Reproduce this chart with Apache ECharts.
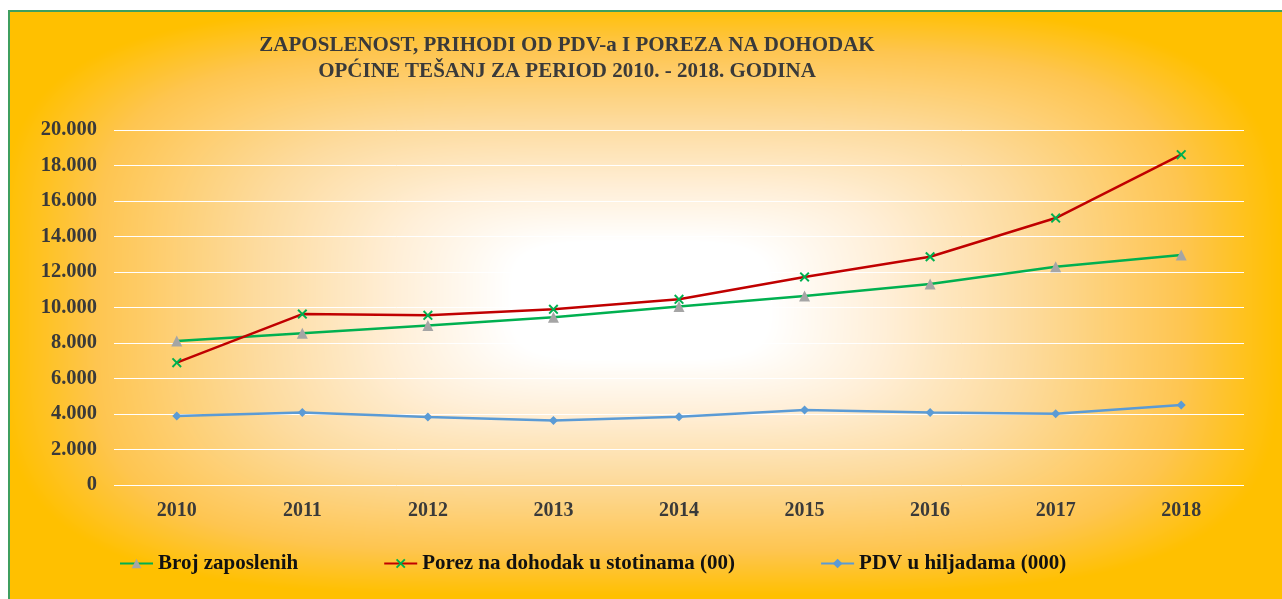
<!DOCTYPE html>
<html>
<head>
<meta charset="utf-8">
<script src="https://cdn.jsdelivr.net/npm/echarts@6/dist/echarts.min.js"></script>
<style>
html,body{margin:0;padding:0;background:#ffffff;overflow:hidden;}
#bg{position:absolute;left:0;top:0;width:1282px;height:599px;}
#chart{position:absolute;left:0;top:0;width:1282px;height:599px;}
</style>
</head>
<body>
<canvas id="bg" width="1282" height="599"></canvas>
<div id="chart"></div>
<script>
const categories = ['2010','2011','2012','2013','2014','2015','2016','2017','2018'];
const brojZaposlenih = [8110, 8550, 8980, 9450, 10050, 10650, 11320, 12300, 12960];
const porezNaDohodak = [6890, 9630, 9560, 9900, 10460, 11720, 12860, 15040, 18610];
const pdv = [3890, 4080, 3830, 3640, 3850, 4230, 4080, 4020, 4510];
const seriesNames = ['Broj zaposlenih', 'Porez na dohodak u stotinama (00)', 'PDV u hiljadama (000)'];
const titleLines = ['ZAPOSLENOST, PRIHODI OD PDV-a I POREZA NA DOHODAK', 'OPĆINE TEŠANJ ZA PERIOD 2010. - 2018. GODINA'];

// decorative background: path-style gradient (white centre -> orange edges) with green frame
(function(){
  const cv = document.getElementById('bg');
  const ctx = cv.getContext('2d');
  const W = cv.width, H = cv.height;
  const img = ctx.createImageData(W, H);
  const stops = [[0,[255,255,255]],[0.2,[255,255,255]],[0.38,[255,239,216]],[0.6,[253,219,158]],[0.85,[254,197,80]],[1,[255,192,0]]];
  const cx = 640, cy = 300, hw = 640, hh = 295, p = 4;
  function col(t){
    if (t >= 1) return stops[stops.length-1][1];
    for (let i = 1; i < stops.length; i++) {
      if (t <= stops[i][0]) {
        const a = stops[i-1], b = stops[i];
        const f = (t - a[0]) / (b[0] - a[0]);
        return [a[1][0] + (b[1][0]-a[1][0])*f, a[1][1] + (b[1][1]-a[1][1])*f, a[1][2] + (b[1][2]-a[1][2])*f];
      }
    }
    return stops[stops.length-1][1];
  }
  for (let y = 0; y < H; y++) {
    for (let x = 0; x < W; x++) {
      const k = (y*W + x)*4;
      let c;
      if (x < 8 || y < 10) { c = [255,255,255]; }
      else if (x < 10 || y < 12) { c = [63,159,95]; }
      else {
        const dx = Math.abs(x-cx)/hw, dy = Math.abs(y-cy)/hh;
        const t = Math.pow(Math.pow(dx,p) + Math.pow(dy,p), 1/p);
        c = col(t);
      }
      img.data[k] = c[0]; img.data[k+1] = c[1]; img.data[k+2] = c[2]; img.data[k+3] = 255;
    }
  }
  ctx.putImageData(img, 0, 0);
})();

const FONT = "'Liberation Serif','Times New Roman',serif";
const chart = echarts.init(document.getElementById('chart'), null, {renderer:'canvas'});
const xSymbol = 'path://M0,1.4 L1.4,0 L5,3.6 L8.6,0 L10,1.4 L6.4,5 L10,8.6 L8.6,10 L5,6.4 L1.4,10 L0,8.6 L3.6,5 Z';

chart.setOption({
  backgroundColor: 'transparent',
  animation: false,
  title: {
    text: titleLines.join('\n'),
    left: 562, textAlign: 'center', top: 28,
    textStyle: {fontFamily: FONT, fontWeight: 'bold', fontSize: 21, lineHeight: 26, color: '#3a3a3a'}
  },
  legend: {
    left: 114, top: 548, itemGap: 85, itemWidth: 33, itemHeight: 12,
    textStyle: {fontFamily: FONT, fontWeight: 'bold', fontSize: 21, color: '#111'},
    data: seriesNames
  },
  grid: {left: 114, right: 38, top: 130, bottom: 114},
  xAxis: {
    type: 'category', data: categories, boundaryGap: true,
    axisLine: {show: false}, axisTick: {show: false},
    axisLabel: {margin: 16, fontFamily: FONT, fontWeight: 'bold', fontSize: 20, color: '#3a3a3a'}
  },
  yAxis: {
    type: 'value', min: 0, max: 20000, interval: 2000,
    axisLine: {show: false}, axisTick: {show: false},
    splitLine: {lineStyle: {color: '#ffffff', width: 1}},
    axisLabel: {margin: 17, fontFamily: FONT, fontWeight: 'bold', fontSize: 20.5, color: '#3a3a3a',
      formatter: v => v === 0 ? '0' : String(v).replace(/\B(?=(\d{3})+(?!\d))/g, '.')}
  },
  series: [
    {name: seriesNames[0], type: 'line', data: brojZaposlenih, symbol: 'triangle', symbolSize: 11,
      lineStyle: {color: '#00b050', width: 2.5}, itemStyle: {color: '#a5a5a5'}},
    {name: seriesNames[1], type: 'line', data: porezNaDohodak, symbol: xSymbol, symbolSize: 10,
      lineStyle: {color: '#c00000', width: 2.5}, itemStyle: {color: '#00b050'}},
    {name: seriesNames[2], type: 'line', data: pdv, symbol: 'diamond', symbolSize: 9,
      lineStyle: {color: '#5b9bd5', width: 2.5}, itemStyle: {color: '#5b9bd5'}}
  ]
});
</script>
</body>
</html>
